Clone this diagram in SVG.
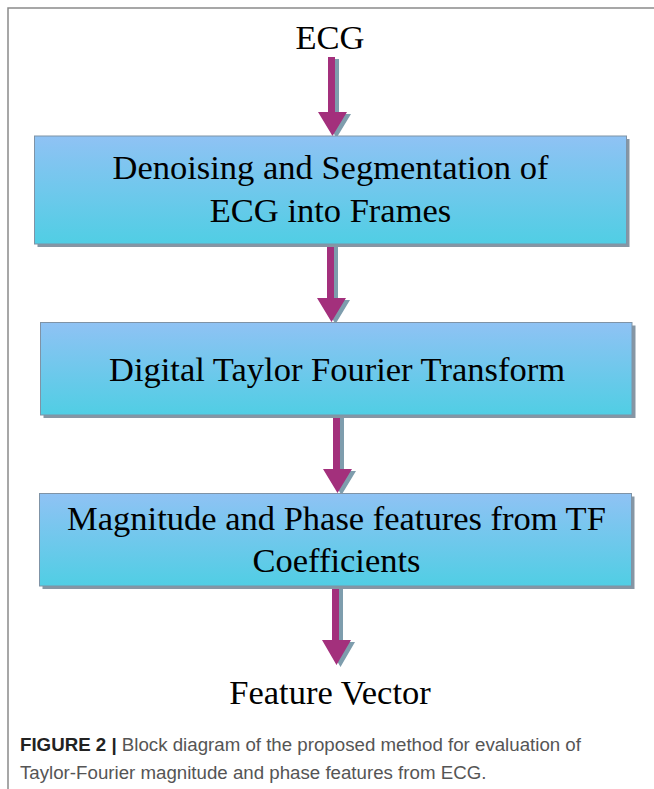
<svg xmlns="http://www.w3.org/2000/svg" width="654" height="789" viewBox="0 0 654 789">
<defs>
<linearGradient id="boxg" x1="0" y1="0" x2="0" y2="1">
<stop offset="0" stop-color="#8FC2F4"/>
<stop offset="1" stop-color="#50CEE4"/>
</linearGradient>
</defs>
<style>
.frame{fill:none;stroke:#8a8a8a;stroke-width:1.5}
.shadow{fill:#8696a4}
.box{fill:url(#boxg);stroke:#7f93a6;stroke-width:1}
.t{font-family:"Liberation Serif","Times New Roman",serif;font-size:34.5px;fill:#000;text-anchor:middle}
.arr{fill:#A3307C}
.arrs{fill:#7E9DAD}
.cap{font-family:"Liberation Sans",Arial,sans-serif;font-size:18.7px;fill:#555}
.capb{font-weight:bold;fill:#222}
</style>
<rect width="654" height="789" fill="#fff"/>
<path class="frame" d="M8,789 V8 H654"/>

<g id="connectors">
<g id="a1">
<path class="arrs" d="M331,59 h8 v55 h12 l-14.5,24 l-14.5,-24 h9 z"/>
<path class="arr" d="M328,57 h7 v55 h12 l-14.5,24 l-14.5,-24 h10 z"/>
</g>
<g id="a2">
<path class="arrs" d="M330,246 h8 v54 h12 l-14.5,24 l-14.5,-24 h9 z"/>
<path class="arr" d="M327,244 h7 v54 h12 l-14.5,24 l-14.5,-24 h10 z"/>
</g>
<g id="a3">
<path class="arrs" d="M336,417 h8 v54 h12 l-14.5,24 l-14.5,-24 h9 z"/>
<path class="arr" d="M333,415 h7 v54 h12 l-14.5,24 l-14.5,-24 h10 z"/>
</g>
<g id="a4">
<path class="arrs" d="M335,588 h8 v54 h12 l-14.5,25 l-14.5,-25 h9 z"/>
<path class="arr" d="M332,586 h7 v54 h12 l-14.5,25 l-14.5,-25 h10 z"/>
</g>
</g>

<g id="n-ecg">
<text class="t" x="330" y="49" font-size="33">ECG</text>
</g>

<g id="n-denoise">
<rect class="shadow" x="37.5" y="139" width="592" height="108"/>
<rect class="box" x="34.5" y="136" width="592" height="108"/>
<text class="t" x="330.5" y="178.5">Denoising and Segmentation of</text>
<text class="t" x="330.5" y="222">ECG into Frames</text>
</g>

<g id="n-dtft">
<rect class="shadow" x="43.5" y="325.5" width="592" height="92.5"/>
<rect class="box" x="40.5" y="322.5" width="591.5" height="92.5"/>
<text class="t" x="337" y="380.5">Digital Taylor Fourier Transform</text>
</g>

<g id="n-features">
<rect class="shadow" x="42.5" y="496.5" width="592" height="92.5"/>
<rect class="box" x="39.5" y="493.5" width="592" height="92.5"/>
<text class="t" x="336.5" y="530">Magnitude and Phase features from TF</text>
<text class="t" x="336.5" y="572">Coefficients</text>
</g>

<g id="n-fv">
<text class="t" x="330" y="704">Feature Vector</text>
</g>

<g id="caption">
<text class="cap" x="20" y="751"><tspan class="capb">FIGURE 2 |</tspan> Block diagram of the proposed method for evaluation of</text>
<text class="cap" x="20" y="779">Taylor-Fourier magnitude and phase features from ECG.</text>
</g>
</svg>
